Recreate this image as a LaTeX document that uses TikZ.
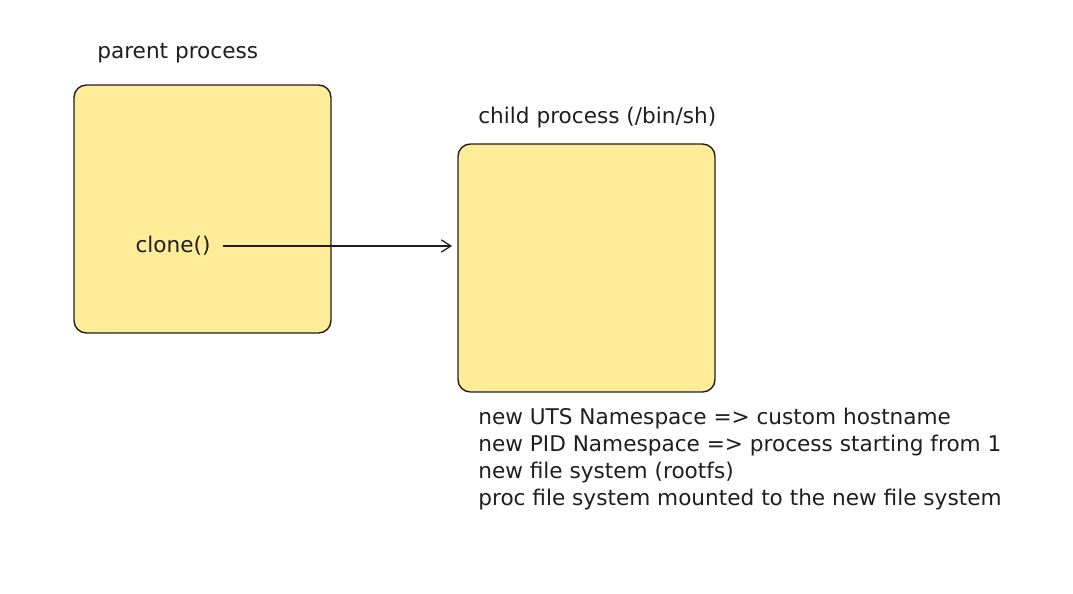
\documentclass[tikz,border=0pt]{standalone}
\usepackage{fontspec}
\setmainfont{DejaVu Sans}
\usepackage{xcolor}
\usetikzlibrary{positioning,calc,arrows.meta}

\definecolor{procfill}{HTML}{FFEC99}
\definecolor{inkline}{HTML}{1E1E1E}

\tikzset{
    procbox/.style={draw=inkline,fill=procfill,line width=0.8pt,rounded corners=7pt,
        minimum width=5.14cm,minimum height=4.96cm,inner sep=0pt},
    lbl/.style={text=inkline,font=\fontsize{12.3}{15.4}\selectfont,inner sep=0pt}
}

\begin{document}
\begin{tikzpicture}[x=0.02cm,y=-0.02cm]
        \useasboundingbox (0,0) rectangle (1073,593);
        \node[procbox] (parent) at (202.5,209) {};
        \node[procbox] (child) at (586.5,268) {};
        \node[lbl,anchor=south west] (parentlbl) at (97,63) {parent process};
        \node[lbl,anchor=south west] (childlbl) at (478,128) {child process (/bin/sh)};
        \node[lbl] (clone) at (173,246) {clone()};
        \draw[-{Straight Barb[length=5.5pt,width=7pt]},inkline,line width=0.7pt,shorten <=7pt,shorten >=3pt] (clone.east) -- (clone.east -| child.west);
        \node[lbl,align=left,anchor=north west] (nslist) at (478,408) {new UTS Namespace => custom hostname\\
            new PID Namespace => process starting from 1\\
            new file system (rootfs)\\
            proc file system mounted to the new file system};
    \end{tikzpicture}
\end{document}
